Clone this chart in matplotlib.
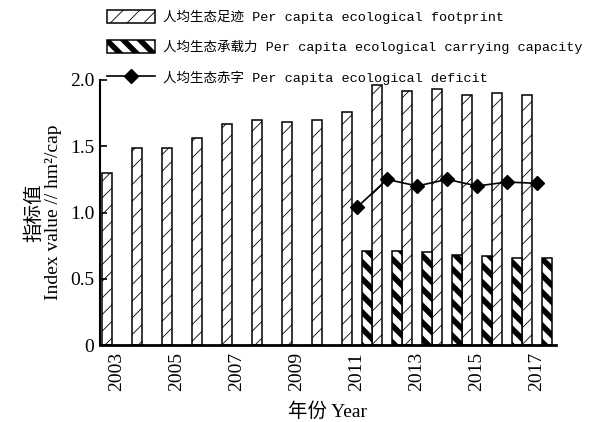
import numpy as np
import matplotlib
matplotlib.use('Agg')
import matplotlib.pyplot as plt

years = list(range(2003, 2018))
footprint = [1.30, 1.49, 1.49, 1.56, 1.67, 1.70, 1.68, 1.70, 1.76,
             1.96, 1.92, 1.93, 1.89, 1.90, 1.89]
cap_years = list(range(2011, 2018))
capacity = [0.71, 0.71, 0.70, 0.68, 0.67, 0.66, 0.66]
deficit = [1.04, 1.25, 1.20, 1.25, 1.20, 1.23, 1.22]

tick_years = list(range(2003, 2018, 2))
y_ticks = [0, 0.5, 1.0, 1.5, 2.0]
y_labels = ['0', '0.5', '1.0', '1.5', '2.0']

lab_fp = '人均生态足迹 Per capita ecological footprint'
lab_cap = '人均生态承载力 Per capita ecological carrying capacity'
lab_def = '人均生态赤字 Per capita ecological deficit'

serif = ['Liberation Serif', 'Noto Sans CJK SC']
mono = ['Liberation Mono', 'Noto Sans CJK SC']


def set_hatch_lw(patch, lw):
  if hasattr(patch, 'set_hatch_linewidth'):
    patch.set_hatch_linewidth(lw)
  else:
    patch._hatch_linewidth = lw


fig = plt.figure(figsize=(5.99, 4.22), dpi=100)
ax = fig.add_axes([100/599, 1 - 345/422, 456/599, 265/422])

w = 1/3
with plt.rc_context({'hatch.linewidth': 0.6}):
  b1 = ax.bar(np.array(years) - w, footprint, width=w, color='white',
              edgecolor='black', linewidth=1.1, hatch='//', label=lab_fp)
with plt.rc_context({'hatch.linewidth': 4.0}):
  b2 = ax.bar(np.array(cap_years) + w, capacity, width=w, color='white',
              edgecolor='black', linewidth=1.1, hatch='\\\\', label=lab_cap)
ln, = ax.plot(cap_years, deficit, color='black', linewidth=1.2, marker='D',
              markersize=7, label=lab_def, zorder=3)

ax.set_xlim(2002.43, 2017.63)
ax.set_ylim(0, 2.0)
ax.set_xticks(tick_years)
ax.set_xticklabels([str(y) for y in tick_years], rotation=90, family=serif, fontsize=14)
ax.set_yticks(y_ticks)
ax.set_yticklabels(y_labels, family=serif, fontsize=14)
ax.tick_params(axis='x', length=0, pad=5)
ax.tick_params(axis='y', direction='in', length=5, width=1.2, pad=4)

ax.spines['top'].set_visible(False)
ax.spines['right'].set_visible(False)
ax.spines['left'].set_linewidth(1.5)
ax.spines['bottom'].set_linewidth(2.0)

ax.set_ylabel('指标值\nIndex value // hm²/cap', family=serif, fontsize=14,
              linespacing=1.1, labelpad=6)
ax.set_xlabel('年份 Year', family=serif, fontsize=14, labelpad=8)

leg = fig.legend(handles=[b1, b2, ln], loc='upper left',
                 bbox_to_anchor=(104/599, 1 - 7/422), frameon=False,
                 prop={'family': mono, 'size': 9.7},
                 handlelength=3.6, handleheight=1.1, handletextpad=0.6,
                 labelspacing=1.2, borderaxespad=0, borderpad=0.2)
patches = leg.get_patches()
set_hatch_lw(patches[0], 0.6)
set_hatch_lw(patches[1], 4.0)
patches[0].set_linewidth(1.1)
patches[1].set_linewidth(1.1)

fig.savefig('out.png', dpi=100)
